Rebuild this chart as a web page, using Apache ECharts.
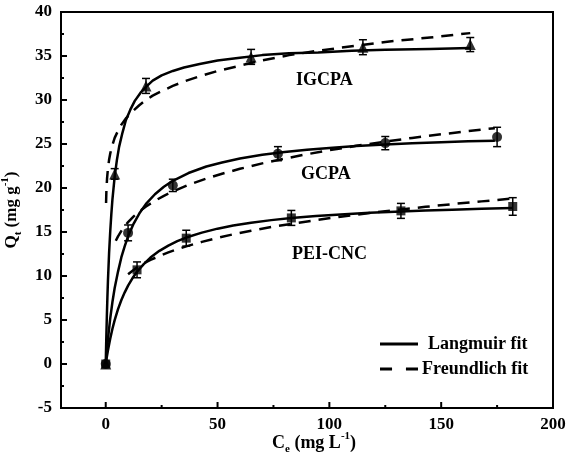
<!DOCTYPE html>
<html><head><meta charset="utf-8">
<script src="https://cdn.jsdelivr.net/npm/echarts@6/dist/echarts.min.js"></script>
<style>html,body{margin:0;padding:0;background:#fff}#c{width:568px;height:460px}</style>
</head><body><div id="c"></div>
<script>
// Experimental points
const igcpaC = [0, 4, 18, 65, 115, 163];
const igcpaQ = [0, 21.6, 31.6, 34.9, 36.0, 36.3];
const igcpaErr = [0, 0.6, 0.85, 0.85, 0.85, 0.8];
const gcpaC = [0, 10, 30, 77, 125, 175];
const gcpaQ = [0, 14.9, 20.3, 23.9, 25.1, 25.8];
const gcpaErr = [0, 0.9, 0.7, 0.8, 0.75, 1.1];
const peiC = [0, 14, 36, 83, 132, 182];
const peiQ = [0, 10.7, 14.3, 16.6, 17.4, 17.9];
const peiErr = [0, 0.9, 0.9, 0.85, 0.85, 1.0];

// Fit curves
const igcpaLangC = [0, 0.25, 0.5, 0.75, 1, 1.5, 2, 2.5, 3, 4, 5, 6, 7.5, 9, 11, 13, 15.5, 18, 21, 25, 30, 35, 42, 50, 60, 70, 82, 95, 110, 125, 145, 163];
const igcpaLangQ = [0, 2.9, 5.4, 7.6, 9.5, 12.6, 15.0, 17.0, 18.7, 21.3, 23.2, 24.7, 26.3, 27.7, 28.9, 29.9, 30.8, 31.5, 32.2, 32.8, 33.3, 33.7, 34.1, 34.5, 34.8, 35.1, 35.3, 35.4, 35.6, 35.7, 35.8, 35.9];
const igcpaFreuC = [0.15, 0.3, 0.6, 1, 1.5, 2, 3, 4, 5.5, 7, 9, 12, 15, 18, 21, 25, 30, 35, 42, 50, 60, 70, 82, 95, 110, 125, 145, 163];
const igcpaFreuQ = [18.3, 19.7, 21.1, 22.25, 23.2, 23.9, 24.9, 25.7, 26.5, 27.2, 27.9, 28.7, 29.4, 30.0, 30.5, 31.0, 31.6, 32.1, 32.7, 33.3, 33.9, 34.5, 35.1, 35.6, 36.1, 36.6, 37.1, 37.6];

const gcpaLangC = [0, 0.5, 1, 2, 3, 4, 5.5, 7, 8.5, 10, 12.5, 15, 18, 22, 26, 30, 37, 45, 52, 60, 70, 80, 90, 100, 112, 125, 137, 150, 162, 174];
const gcpaLangQ = [0, 1.5, 2.85, 5.15, 7.05, 8.63, 10.5, 12.14, 13.4, 14.51, 15.96, 17.1, 18.2, 19.29, 20.14, 20.82, 21.7, 22.44, 22.9, 23.36, 23.77, 24.09, 24.35, 24.55, 24.76, 24.94, 25.08, 25.2, 25.3, 25.38];
const gcpaFreuC = [4.5, 5.5, 7, 8.5, 10, 12.5, 15, 18, 22, 26, 30, 37, 45, 52, 60, 70, 80, 90, 100, 112, 125, 137, 150, 162, 174];
const gcpaFreuQ = [14.0, 14.5, 15.13, 15.67, 16.12, 16.78, 17.33, 17.9, 18.55, 19.11, 19.6, 20.36, 21.07, 21.62, 22.18, 22.8, 23.34, 23.84, 24.29, 24.79, 25.27, 25.69, 26.1, 26.46, 26.8];

const peiLangC = [0, 0.5, 1, 2, 3, 4, 5.5, 7, 8.5, 10, 12, 14, 17, 20, 24, 28, 32, 36, 43, 50, 57, 65, 74, 83, 94, 105, 118, 132, 143, 155, 168, 182];
const peiLangQ = [0, 0.81, 1.55, 2.87, 4.0, 4.98, 6.24, 7.27, 8.14, 8.91, 9.77, 10.48, 11.35, 12.09, 12.86, 13.46, 13.96, 14.37, 14.93, 15.38, 15.74, 16.06, 16.35, 16.58, 16.81, 17.0, 17.18, 17.34, 17.44, 17.54, 17.63, 17.72];
const peiFreuC = [10, 12, 14, 17, 20, 24, 28, 32, 36, 43, 50, 57, 65, 74, 83, 94, 105, 118, 132, 143, 155, 168, 182];
const peiFreuQ = [10.2, 10.6, 10.97, 11.43, 11.82, 12.28, 12.68, 13.04, 13.37, 13.88, 14.33, 14.74, 15.14, 15.56, 15.93, 16.35, 16.74, 17.15, 17.57, 17.86, 18.17, 18.48, 18.8];

// Axis ticks
const xMajorTicks = [0, 50, 100, 150, 200];
const xMinorTicks = [25, 75, 125, 175];
const seriesLabels = ['IGCPA', 'GCPA', 'PEI-CNC'];
const legendNames = ['Langmuir fit', 'Freundlich fit'];

const FONT = "'Liberation Serif', 'Times New Roman', serif";
const zip = (a, b) => a.map((v, i) => [v, b[i]]);
const zip3 = (a, b, c) => a.map((v, i) => [v, b[i], c[i]]);

function errSeries(data) {
  return {
    type: 'custom', silent: true, z: 5,
    data: data.filter(d => d[2] > 0),
    renderItem: function (params, api) {
      const x = api.value(0), y = api.value(1), e = api.value(2);
      const top = api.coord([x, y + e]);
      const bot = api.coord([x, y - e]);
      const w = 4;
      const st = { stroke: '#000', lineWidth: 1.5 };
      return { type: 'group', children: [
        { type: 'line', shape: { x1: top[0], y1: top[1], x2: bot[0], y2: bot[1] }, style: st },
        { type: 'line', shape: { x1: top[0] - w, y1: top[1], x2: top[0] + w, y2: top[1] }, style: st },
        { type: 'line', shape: { x1: bot[0] - w, y1: bot[1], x2: bot[0] + w, y2: bot[1] }, style: st }
      ]};
    }
  };
}
// Inward x-axis ticks drawn at the axis values (value, tick length in px)
function xTickSeries(values, len) {
  return {
    type: 'custom', silent: true, z: 10, clip: false,
    data: values.map(v => [v, -5]),
    renderItem: function (params, api) {
      const p = api.coord([api.value(0), api.value(1)]);
      return { type: 'line', shape: { x1: p[0], y1: p[1], x2: p[0], y2: p[1] - len },
        style: { stroke: '#000', lineWidth: 2 } };
    }
  };
}
function fitLine(name, c, q, dashed) {
  return {
    name: name, type: 'line', data: zip(c, q), symbol: 'none', silent: true,
    smooth: false, z: 3,
    lineStyle: { color: '#000', width: 2.5, type: dashed ? [12, 8] : 'solid', join: 'round' }
  };
}
function pts(c, q, sym, size) {
  return { type: 'scatter', data: zip(c, q), symbol: sym, symbolSize: size, z: 6,
    itemStyle: { color: '#000' }, silent: true };
}

const chart = echarts.init(document.getElementById('c'), null, { renderer: 'canvas' });
const tickLabel = { fontFamily: FONT, fontWeight: 'bold', fontSize: 17, color: '#000' };
const legendText = { fontFamily: FONT, fontWeight: 'bold', fontSize: 18, color: '#000' };
chart.setOption({
  animation: false,
  backgroundColor: '#fff',
  grid: { left: 61, right: 15, top: 12, bottom: 52, show: true, borderColor: '#000', borderWidth: 2,
    backgroundColor: 'transparent', containLabel: false, outerBoundsMode: 'none' },
  xAxis: {
    type: 'value', min: -20, max: 200,
    axisLine: { show: true, onZero: false, lineStyle: { color: '#000', width: 2 } },
    axisTick: { show: false },
    axisLabel: Object.assign({ margin: 8, customValues: xMajorTicks }, tickLabel),
    splitLine: { show: false }
  },
  yAxis: {
    type: 'value', min: -5, max: 40, interval: 5,
    axisLine: { show: true, onZero: false, lineStyle: { color: '#000', width: 2 } },
    axisTick: { show: true, inside: true, length: 6, lineStyle: { color: '#000', width: 2 } },
    minorTick: { show: true, splitNumber: 2, length: 3, lineStyle: { color: '#000', width: 2 } },
    axisLabel: Object.assign({ margin: 9 }, tickLabel),
    splitLine: { show: false },
    name: 'Q{sub|t} (mg g{sup|-1})', nameLocation: 'middle', nameRotate: 90, nameGap: 35,
    nameTextStyle: { fontFamily: FONT, fontWeight: 'bold', fontSize: 17, color: '#000',
      rich: {
        sub: { fontFamily: FONT, fontWeight: 'bold', fontSize: 11, verticalAlign: 'bottom', lineHeight: 24 },
        sup: { fontFamily: FONT, fontWeight: 'bold', fontSize: 11, verticalAlign: 'top', lineHeight: 24 }
      } }
  },
  legend: [{
    data: [{ name: legendNames[0], icon: 'path://M0,0h40v3h-40z' }],
    left: 375, top: 330, itemWidth: 38, itemHeight: 3, itemGap: 10,
    textStyle: Object.assign({ padding: [0, 0, 0, 5] }, legendText), selectedMode: false
  }, {
    data: [{ name: legendNames[1], icon: 'path://M0,0h13v3h-13z M28,0h13v3h-13z' }],
    left: 375, top: 355, itemWidth: 38, itemHeight: 3, itemGap: 10,
    textStyle: Object.assign({ padding: [0, 0, 0, -1] }, legendText), selectedMode: false
  }],
  graphic: [
    { type: 'text', left: 296, top: 71, style: { text: seriesLabels[0], font: "bold 18px " + FONT, fill: '#000' } },
    { type: 'text', left: 301, top: 165, style: { text: seriesLabels[1], font: "bold 18px " + FONT, fill: '#000' } },
    { type: 'text', left: 292, top: 245, style: { text: seriesLabels[2], font: "bold 18px " + FONT, fill: '#000' } },
    { type: 'text', left: 272, top: 431, style: {
      text: 'C{sub|e} (mg L{sup|-1})', font: "bold 18px " + FONT, fill: '#000',
      rich: {
        sub: { font: "bold 11px " + FONT, verticalAlign: 'bottom', lineHeight: 24 },
        sup: { font: "bold 11px " + FONT, verticalAlign: 'top', lineHeight: 24 }
      } } }
  ],
  series: [
    { name: legendNames[0], type: 'line', data: [], symbol: 'none', lineStyle: { color: '#000', width: 2.5 }, itemStyle: { color: '#000' } },
    { name: legendNames[1], type: 'line', data: [], symbol: 'none', lineStyle: { color: '#000', width: 2.5, type: [12, 8] }, itemStyle: { color: '#000' } },
    xTickSeries(xMajorTicks, 6),
    xTickSeries(xMinorTicks, 3),
    fitLine('l1', igcpaLangC, igcpaLangQ, false),
    fitLine('f1', igcpaFreuC, igcpaFreuQ, true),
    fitLine('l2', gcpaLangC, gcpaLangQ, false),
    fitLine('f2', gcpaFreuC, gcpaFreuQ, true),
    fitLine('l3', peiLangC, peiLangQ, false),
    fitLine('f3', peiFreuC, peiFreuQ, true),
    errSeries(zip3(igcpaC, igcpaQ, igcpaErr)),
    errSeries(zip3(gcpaC, gcpaQ, gcpaErr)),
    errSeries(zip3(peiC, peiQ, peiErr)),
    pts(igcpaC, igcpaQ, 'triangle', 11),
    pts(gcpaC, gcpaQ, 'circle', 10),
    pts(peiC, peiQ, 'rect', 9)
  ]
});
</script></body></html>
